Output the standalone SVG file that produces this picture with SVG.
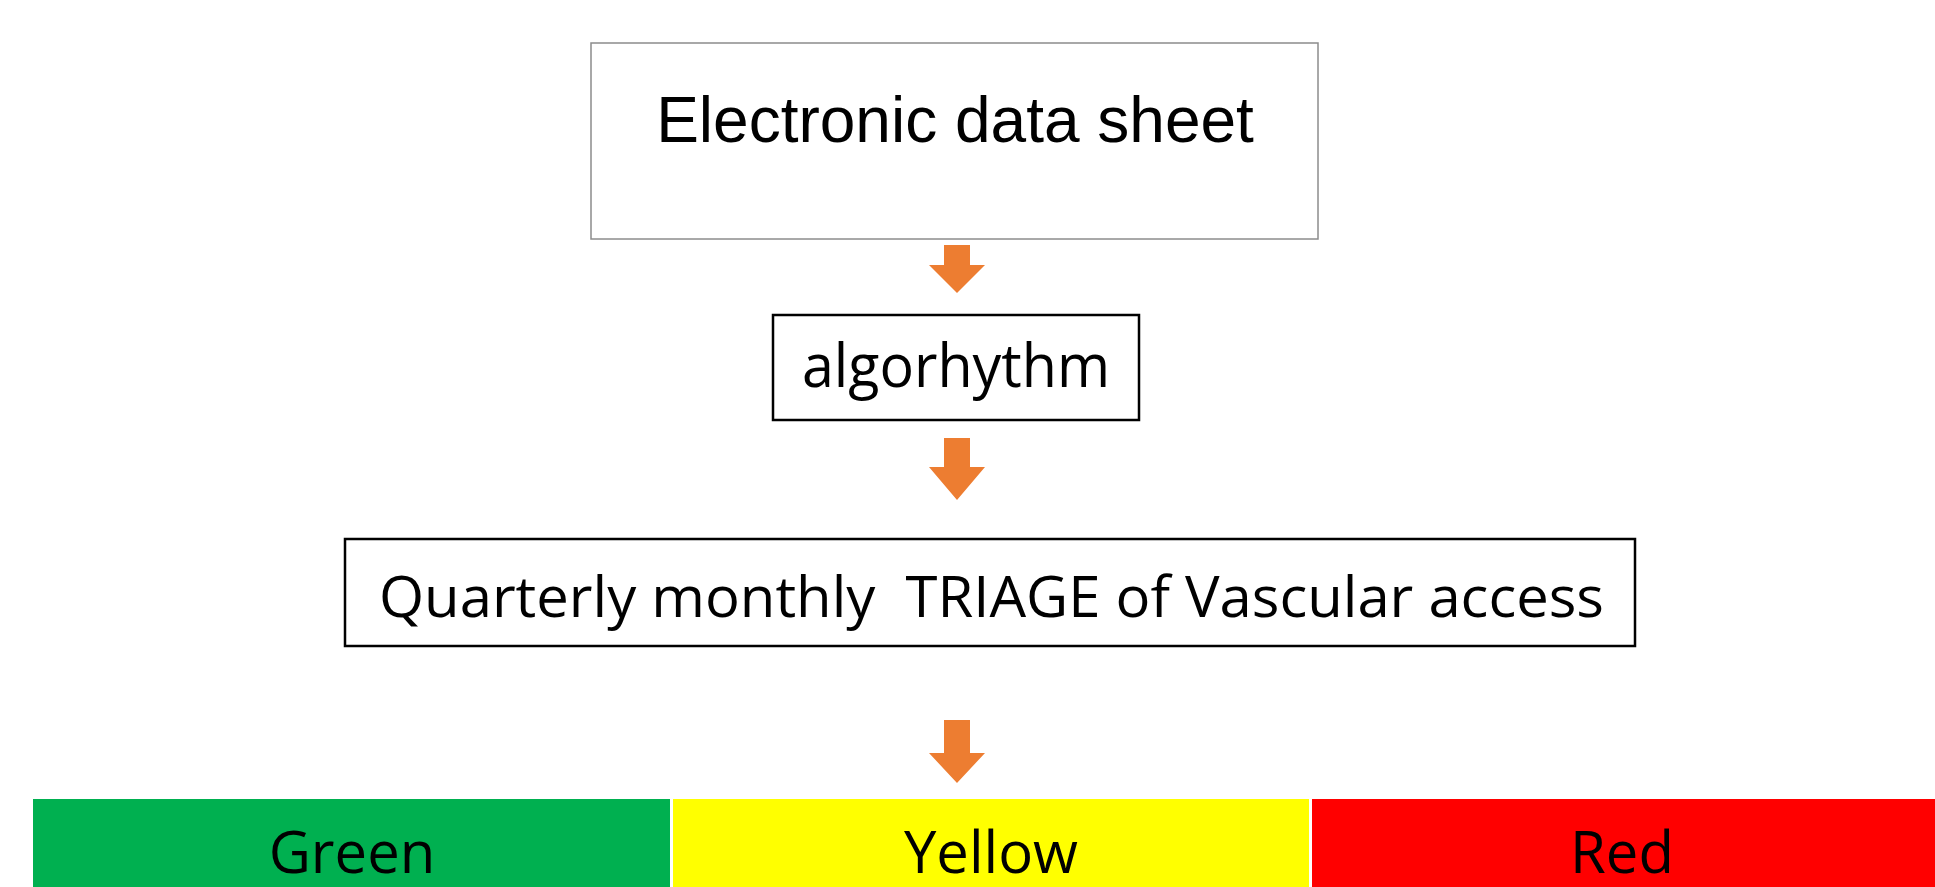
<svg xmlns="http://www.w3.org/2000/svg" width="1935" height="887" viewBox="0 0 1935 887">
<defs>
<style>
.box{fill:#fff;stroke:#000;stroke-width:2.5}
.box2{fill:#fff;stroke:#8c8c8c;stroke-width:1.5}
.cal{font-family:"Open Sans","Noto Sans",sans-serif;fill:#000}
.ari{font-family:"Liberation Sans",Arial,sans-serif;fill:#000}
.arrow{fill:#ED7D31}
</style>
</defs>
<rect width="1935" height="887" fill="#fff"/>
<g id="node-eds">
<rect class="box2" x="591" y="43" width="727" height="196"/>
<text class="ari" x="955" y="142" font-size="64" text-anchor="middle">Electronic data sheet</text>
</g>
<g id="node-algo">
<rect class="box" x="773" y="315" width="366" height="105"/>
<text class="cal" x="802" y="387" font-size="60" textLength="308" lengthAdjust="spacingAndGlyphs">algorhythm</text>
</g>
<g id="node-triage">
<rect class="box" x="345" y="539" width="1290" height="107"/>
<text class="cal" x="379" y="617" font-size="57" textLength="1225" lengthAdjust="spacingAndGlyphs" xml:space="preserve" style="white-space:pre">Quarterly monthly  TRIAGE of Vascular access</text>
</g>
<g id="connectors">
<path class="arrow" d="M944 245 H970 V265 H985 L957 293 L929 265 H944 Z"/>
<path class="arrow" d="M944 438 H970 V467 H985 L957 500 L929 467 H944 Z"/>
<path class="arrow" d="M944 720 H970 V753 H985 L957 783 L929 753 H944 Z"/>
</g>
<g id="node-green">
<rect x="33" y="799" width="637" height="88" fill="#00B050"/>
<text class="cal" x="352" y="873" font-size="58" text-anchor="middle">Green</text>
</g>
<g id="node-yellow">
<rect x="673" y="799" width="636" height="88" fill="#FFFF00"/>
<text class="cal" x="991" y="873" font-size="58" text-anchor="middle">Yellow</text>
</g>
<g id="node-red">
<rect x="1312" y="799" width="623" height="88" fill="#FF0000"/>
<text class="cal" x="1622" y="873" font-size="58" text-anchor="middle">Red</text>
</g>
</svg>
